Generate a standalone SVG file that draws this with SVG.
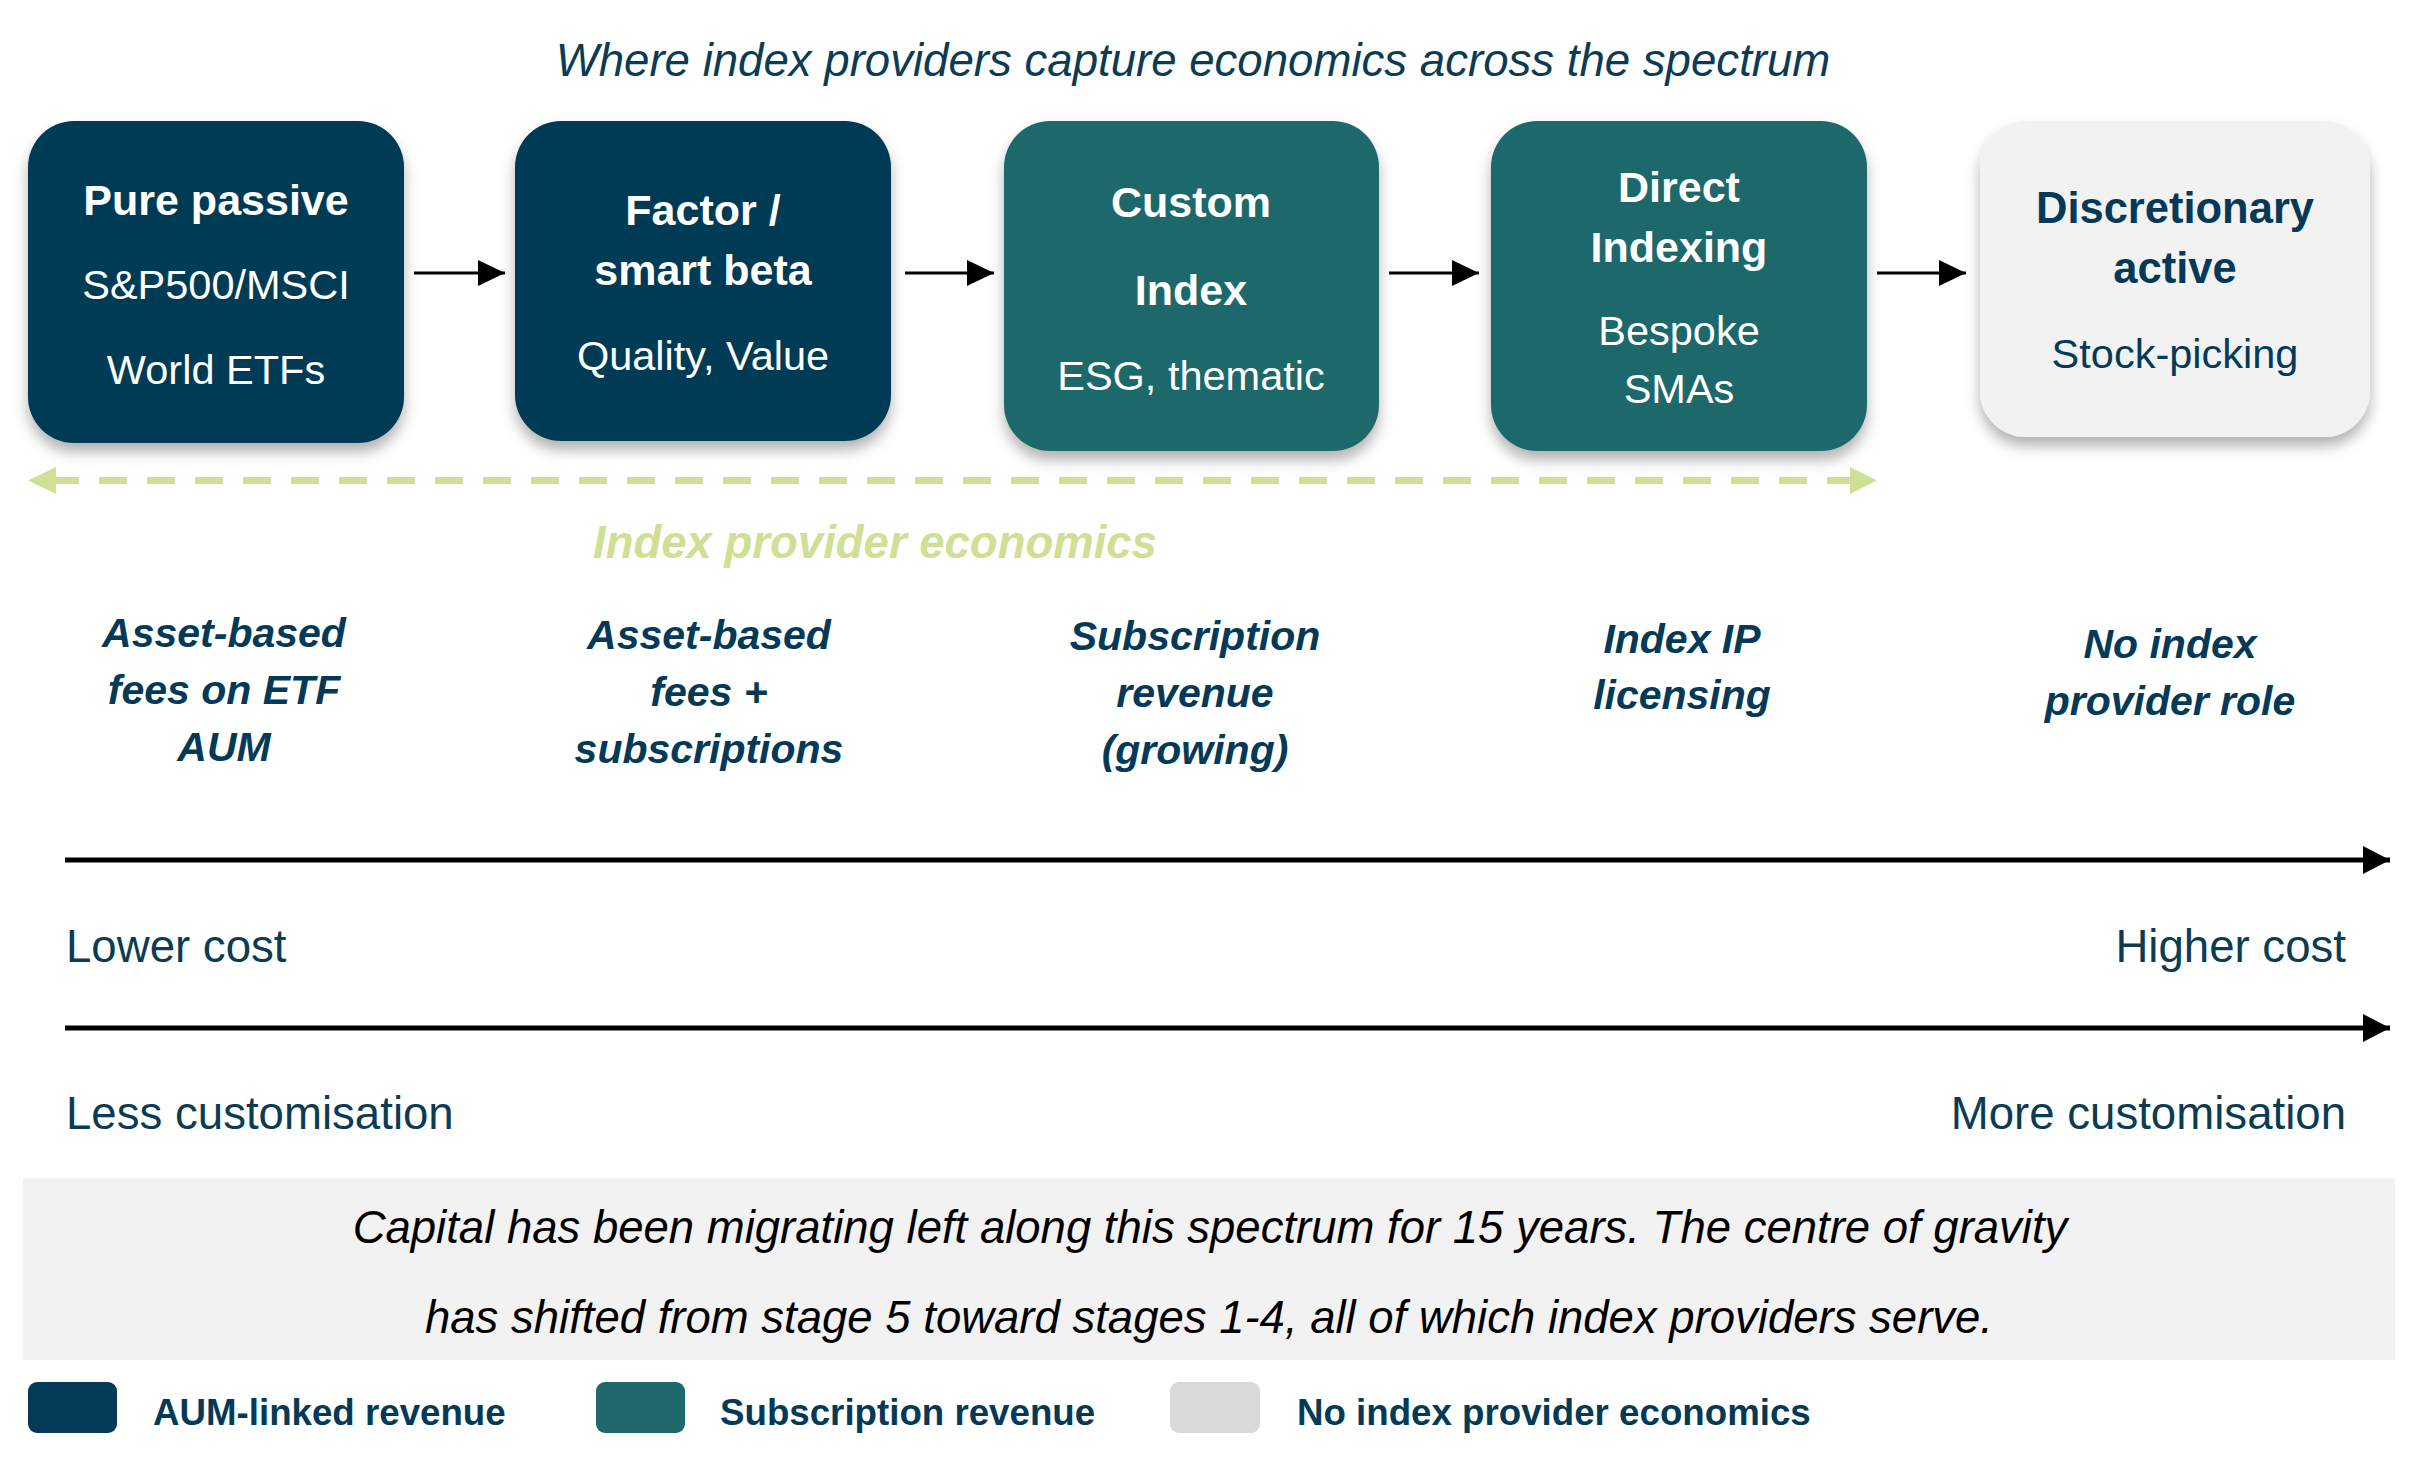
<svg xmlns="http://www.w3.org/2000/svg" width="2419" height="1480" viewBox="0 0 2419 1480">
<defs>
<style>
text{font-family:"Liberation Sans",Arial,sans-serif}
.title{font-size:45.6px;font-style:italic;fill:#0b3c53}
.hb{font-size:43px;font-weight:bold;fill:#fff}
.hr{font-size:41.5px;fill:#fff}
.hbd{font-size:43.5px;font-weight:bold;fill:#043a57}
.hrd{font-size:41.5px;fill:#043a57}
.rev{font-size:41px;font-weight:bold;font-style:italic;fill:#043a57}
.ipe{font-size:45.5px;font-weight:bold;font-style:italic;fill:#cfe095}
.axis{font-size:45.6px;fill:#0b3c53}
.note{font-size:45.5px;font-style:italic;fill:#000}
.leg{font-size:36.7px;font-weight:bold;fill:#043a57}
.navy{fill:#043a57}
.teal{fill:#1f686b}
.light{fill:#f2f2f2}
.conn{stroke:#000;stroke-width:3;fill:none}
.axl{stroke:#000;stroke-width:5;fill:none}
</style>
<filter id="sh" x="-20%" y="-20%" width="140%" height="150%">
<feDropShadow dx="0" dy="9" stdDeviation="7" flood-color="#000" flood-opacity="0.3"/>
</filter>
<marker id="ah" markerUnits="userSpaceOnUse" markerWidth="28" markerHeight="26" refX="27" refY="13" orient="auto">
<path d="M0,0 L27,13 L0,26 Z" fill="#000"/>
</marker>
<marker id="ax" markerUnits="userSpaceOnUse" markerWidth="28" markerHeight="28" refX="27" refY="14" orient="auto">
<path d="M0,0 L27,14 L0,28 Z" fill="#000"/>
</marker>
</defs>
<rect width="2419" height="1480" fill="#fff"/>

<text class="title" x="1193" y="76" text-anchor="middle">Where index providers capture economics across the spectrum</text>

<g id="node1">
<rect x="28" y="121" width="376" height="322" rx="46" class="navy" filter="url(#sh)"/>
<text class="hb" x="216" y="215" text-anchor="middle">Pure passive</text>
<text class="hr" x="216" y="299" text-anchor="middle">S&amp;P500/MSCI</text>
<text class="hr" x="216" y="384" text-anchor="middle">World ETFs</text>
</g>
<g id="node2">
<rect x="515" y="121" width="376" height="320" rx="46" class="navy" filter="url(#sh)"/>
<text class="hb" x="703" y="225" text-anchor="middle">Factor /</text>
<text class="hb" x="703" y="285" text-anchor="middle">smart beta</text>
<text class="hr" x="703" y="370" text-anchor="middle">Quality, Value</text>
</g>
<g id="node3">
<rect x="1004" y="121" width="375" height="330" rx="46" class="teal" filter="url(#sh)"/>
<text class="hb" x="1191" y="217" text-anchor="middle">Custom</text>
<text class="hb" x="1191" y="305" text-anchor="middle">Index</text>
<text class="hr" x="1191" y="390" text-anchor="middle">ESG, thematic</text>
</g>
<g id="node4">
<rect x="1491" y="121" width="376" height="330" rx="46" class="teal" filter="url(#sh)"/>
<text class="hb" x="1679" y="202" text-anchor="middle">Direct</text>
<text class="hb" x="1679" y="262" text-anchor="middle">Indexing</text>
<text class="hr" x="1679" y="345" text-anchor="middle">Bespoke</text>
<text class="hr" x="1679" y="403" text-anchor="middle">SMAs</text>
</g>
<g id="node5">
<rect x="1980" y="121" width="390" height="316" rx="46" class="light" filter="url(#sh)"/>
<text class="hbd" x="2175" y="223" text-anchor="middle">Discretionary</text>
<text class="hbd" x="2175" y="283" text-anchor="middle">active</text>
<text class="hrd" x="2175" y="368" text-anchor="middle">Stock-picking</text>
</g>

<g id="connectors">
<line class="conn" x1="414" y1="273" x2="505" y2="273" marker-end="url(#ah)"/>
<line class="conn" x1="905" y1="273" x2="994" y2="273" marker-end="url(#ah)"/>
<line class="conn" x1="1389" y1="273" x2="1479" y2="273" marker-end="url(#ah)"/>
<line class="conn" x1="1877" y1="273" x2="1966" y2="273" marker-end="url(#ah)"/>
</g>

<g id="economics-range">
<line x1="51" y1="480.5" x2="1855" y2="480.5" stroke="#cfe095" stroke-width="7" stroke-dasharray="28 20"/>
<path d="M28,480.5 L56,467 L56,494 Z" fill="#cfe095"/>
<path d="M1877,480.5 L1850,467 L1850,494 Z" fill="#cfe095"/>
<text class="ipe" x="875" y="558" text-anchor="middle">Index provider economics</text>
</g>

<g id="revenue-labels">
<text class="rev" text-anchor="middle"><tspan x="224" y="647">Asset-based</tspan><tspan x="224" y="704">fees on ETF</tspan><tspan x="224" y="761">AUM</tspan></text>
<text class="rev" text-anchor="middle"><tspan x="709" y="649">Asset-based</tspan><tspan x="709" y="706">fees +</tspan><tspan x="709" y="763">subscriptions</tspan></text>
<text class="rev" text-anchor="middle"><tspan x="1195" y="650">Subscription</tspan><tspan x="1195" y="707">revenue</tspan><tspan x="1195" y="764">(growing)</tspan></text>
<text class="rev" text-anchor="middle"><tspan x="1682" y="653">Index IP</tspan><tspan x="1682" y="709">licensing</tspan></text>
<text class="rev" text-anchor="middle"><tspan x="2170" y="658">No index</tspan><tspan x="2170" y="715">provider role</tspan></text>
</g>

<g id="axes">
<line class="axl" x1="65" y1="860" x2="2390" y2="860" marker-end="url(#ax)"/>
<text class="axis" x="66" y="962">Lower cost</text>
<text class="axis" x="2346" y="962" text-anchor="end">Higher cost</text>
<line class="axl" x1="65" y1="1028" x2="2390" y2="1028" marker-end="url(#ax)"/>
<text class="axis" x="66" y="1129">Less customisation</text>
<text class="axis" x="2346" y="1129" text-anchor="end">More customisation</text>
</g>

<g id="note">
<rect x="23" y="1178" width="2372" height="182" fill="#f2f2f2"/>
<text class="note" x="1210" y="1243" text-anchor="middle">Capital has been migrating left along this spectrum for 15 years. The centre of gravity</text>
<text class="note" x="1209" y="1333" text-anchor="middle">has shifted from stage 5 toward stages 1-4, all of which index providers serve.</text>
</g>

<g id="legend">
<rect x="28" y="1382" width="89" height="51" rx="9" fill="#043a57"/>
<text class="leg" x="153" y="1425">AUM-linked revenue</text>
<rect x="596" y="1382" width="89" height="51" rx="9" fill="#1f686b"/>
<text class="leg" x="720" y="1425">Subscription revenue</text>
<rect x="1170" y="1382" width="90" height="51" rx="9" fill="#d9d9d9"/>
<text class="leg" x="1297" y="1425">No index provider economics</text>
</g>
</svg>
